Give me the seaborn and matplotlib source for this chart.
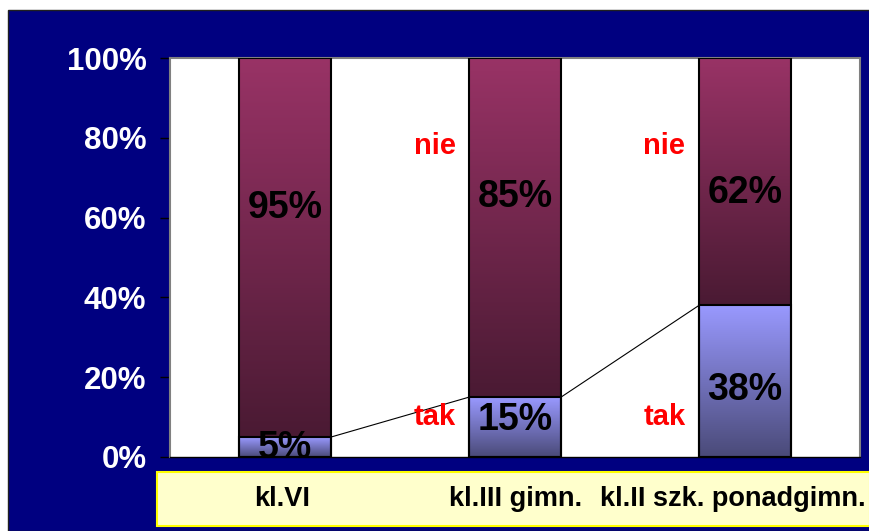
import numpy as np
import matplotlib
matplotlib.use("Agg")
import matplotlib.pyplot as plt
import matplotlib.transforms as mtransforms
import seaborn as sns
from matplotlib.colors import LinearSegmentedColormap
from matplotlib.patches import Rectangle

# dane
categories = ["kl.VI", "kl.III gimn.", "kl.II szk. ponadgimn."]
tak = [5, 15, 38]
nie = [95, 85, 62]
yticks = [0, 20, 40, 60, 80, 100]

# wysokosci etykiet procentowych (polozenie tekstu)
nie_label_y = [62.4, 65.2, 66.2]
tak_label_y = [2.3, 9.3, 16.8]

sns.set_theme(style="white")
plt.rcParams['font.family'] = ['Liberation Sans', 'DejaVu Sans']
plt.rcParams['font.weight'] = 'bold'

fig = plt.figure(figsize=(8.7, 5.31), dpi=100)
fig.patch.set_facecolor('white')

# granatowe tlo i zolte pole pod osia
fig.patches.append(Rectangle((8 / 870, 0), 1, 521 / 531, transform=fig.transFigure,
                             facecolor='#000080', edgecolor='#202020', lw=1, zorder=-10))
fig.patches.append(Rectangle((157 / 870, 5 / 531), 713 / 870, 54 / 531, transform=fig.transFigure,
                             facecolor='#ffffcc', edgecolor='#ffff00', lw=1.5, zorder=-9))

ax = fig.add_axes([170 / 870, 74 / 531, 690 / 870, 399 / 531])
ax.set_facecolor('white')

totals = [t + n for t, n in zip(tak, nie)]
sns.barplot(x=categories, y=totals, color='#993366', width=0.4, saturation=1,
            edgecolor='black', linewidth=1.5, ax=ax)
sns.barplot(x=categories, y=tak, color='#9999ff', width=0.4, saturation=1,
            edgecolor='black', linewidth=1.5, ax=ax)

cmap_nie = LinearSegmentedColormap.from_list('nie', ['#4a1a33', '#993366'])
cmap_tak = LinearSegmentedColormap.from_list('tak', ['#4a4a78', '#9999ff'])
grad = np.linspace(0, 1, 256)[:, None]

patches = list(ax.patches)
for i, p in enumerate(patches):
    x0 = p.get_x()
    w = p.get_width()
    if i < 3:
        lo, hi, cm = tak[i], totals[i], cmap_nie
    else:
        lo, hi, cm = 0, tak[i - 3], cmap_tak
    p.set_facecolor('none')
    p.set_zorder(3)
    ax.imshow(grad, extent=[x0, x0 + w, lo, hi], origin='lower', cmap=cm,
              aspect='auto', zorder=1, interpolation='bilinear')

# linie serii
for i in range(len(tak) - 1):
    ax.plot([i + 0.2, i + 0.8], [tak[i], tak[i + 1]], color='black', lw=0.8, zorder=2)

ax.set_xlim(-0.5, 2.5)
ax.set_ylim(0, 100)
ax.set_yticks(yticks)
ax.set_yticklabels([f"{v}%" for v in yticks])
ax.tick_params(axis='y', left=True, length=7, width=1, color='black',
               labelcolor='white', labelsize=22.5, pad=10)
ax.tick_params(axis='x', length=0, labelsize=19.5, labelcolor='black', pad=21)
for lab in ax.get_xticklabels() + ax.get_yticklabels():
    lab.set_fontweight('bold')

# ostatnia etykieta przesunieta w lewo, zeby zmiescila sie w polu
xlabs = ax.get_xticklabels()
shifts = [-3, 1, -12]
for lab, dx in zip(xlabs, shifts):
    lab.set_transform(lab.get_transform() +
                      mtransforms.ScaledTranslation(dx / 100, 0, fig.dpi_scale_trans))

for s in ['top', 'right', 'left']:
    ax.spines[s].set_color('#808080')
    ax.spines[s].set_linewidth(1.5)
ax.spines['bottom'].set_color('black')
ax.spines['bottom'].set_linewidth(1)

# etykiety procentowe
for i in range(len(categories)):
    ax.text(i, nie_label_y[i], f"{nie[i]}%", ha='center', va='center',
            fontsize=27, fontweight='bold', color='black', zorder=4)
    ax.text(i, tak_label_y[i], f"{tak[i]}%", ha='center', va='center',
            fontsize=27, fontweight='bold', color='black', zorder=4, clip_on=False)

# nazwy serii
for i in [1, 2]:
    ax.text(i - 0.35, 78, "nie", ha='center', va='center', fontsize=21,
            fontweight='bold', color='#ff0000')
    ax.text(i - 0.35, 10, "tak", ha='center', va='center', fontsize=21,
            fontweight='bold', color='#ff0000')

ax.set_xlabel('')
ax.set_ylabel('')

fig.savefig('out.png', dpi=100, facecolor=fig.get_facecolor())
